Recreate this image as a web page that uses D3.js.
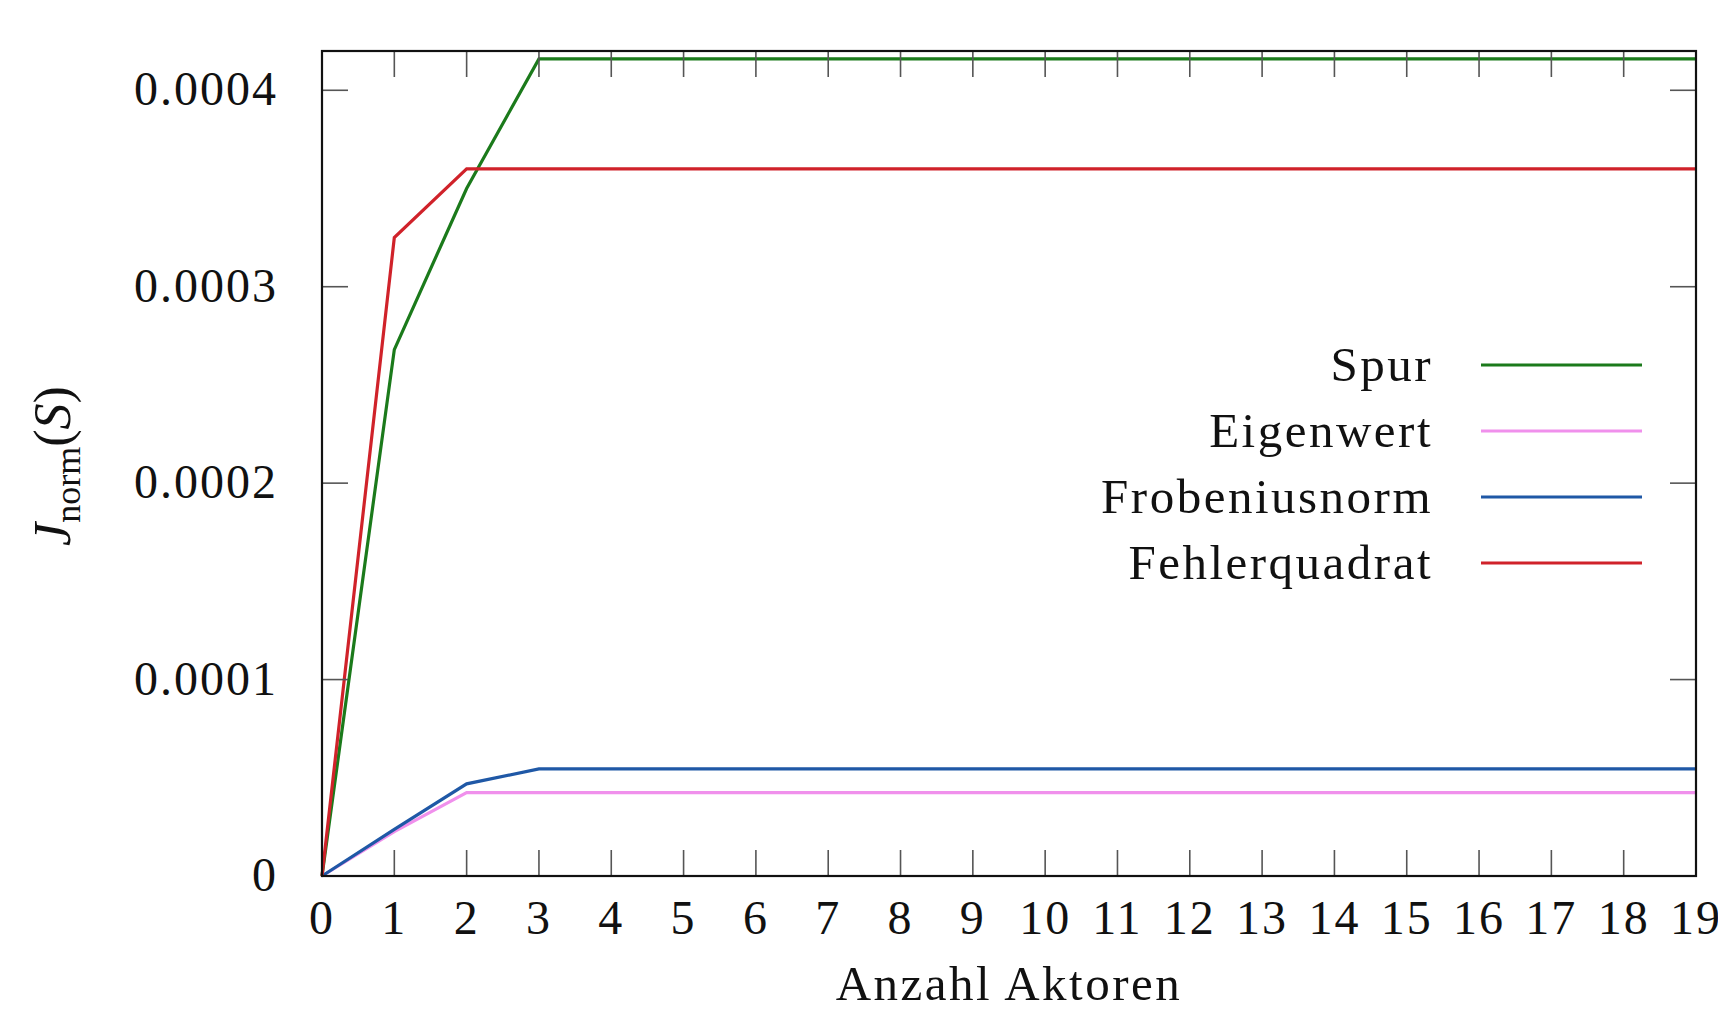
<!DOCTYPE html>
<html>
<head>
<meta charset="utf-8">
<script src="https://cdn.jsdelivr.net/npm/d3@7"></script>
<style>
  body { margin: 0; background: #fff; }
  text { font-family: "Liberation Serif", "DejaVu Serif", serif; fill: #111; }
</style>
</head>
<body>
<div id="viz"></div>
<script>
// data
const actors = d3.range(0, 20);
const spur          = [0, 0.000268, 0.00035, 0.000416];
const eigenwert     = [0, 0.0000226, 0.0000424, 0.0000424];
const frobenius     = [0, 0.0000237, 0.0000469, 0.0000545];
const fehlerquadrat = [0, 0.000325, 0.00036, 0.00036];
const yTicks = [0, 0.0001, 0.0002, 0.0003, 0.0004];
const yTickLabels = ["0", "0.0001", "0.0002", "0.0003", "0.0004"];
const seriesNames = ["Spur", "Eigenwert", "Frobeniusnorm", "Fehlerquadrat"];
const seriesColors = ["#1b7a1b", "#f090ec", "#1f58a6", "#d0222a"];

// values stay constant after the last listed point
function extend(vals) {
  return actors.map(i => i < vals.length ? vals[i] : vals[vals.length - 1]);
}
const series = [spur, eigenwert, frobenius, fehlerquadrat].map(extend);

const width = 1718, height = 1010;
const margin = { left: 322, right: 22, top: 51, bottom: 134 };

const svg = d3.select("#viz").append("svg")
    .attr("width", width)
    .attr("height", height);

const x = d3.scaleLinear().domain([0, 19]).range([margin.left, width - margin.right]);
const y = d3.scaleLinear().domain([0, 0.00042]).range([height - margin.bottom, margin.top]);

const tickLen = 26;
const tickColor = "#555";

// lines
const line = d3.line().x((d, i) => x(actors[i])).y(d => y(d));
const plot = svg.append("g");
plot.selectAll("path")
    .data(series)
    .enter()
    .append("path")
    .attr("d", d => line(d))
    .attr("fill", "none")
    .attr("stroke", (d, i) => seriesColors[i])
    .attr("stroke-width", 3.2);

// ticks inside the frame, bottom + top
const xt = svg.append("g");
actors.forEach(v => {
  xt.append("line").attr("x1", x(v)).attr("x2", x(v))
    .attr("y1", y.range()[0]).attr("y2", y.range()[0] - tickLen)
    .attr("stroke", tickColor).attr("stroke-width", 1.6);
  xt.append("line").attr("x1", x(v)).attr("x2", x(v))
    .attr("y1", y.range()[1]).attr("y2", y.range()[1] + tickLen)
    .attr("stroke", tickColor).attr("stroke-width", 1.6);
  xt.append("text").attr("x", x(v)).attr("y", 934)
    .attr("text-anchor", "middle").attr("font-size", 48)
    .attr("letter-spacing", 2)
    .text(v);
});

const yt = svg.append("g");
yTicks.forEach((v, i) => {
  yt.append("line").attr("x1", x.range()[0]).attr("x2", x.range()[0] + tickLen)
    .attr("y1", y(v)).attr("y2", y(v))
    .attr("stroke", tickColor).attr("stroke-width", 1.6);
  yt.append("line").attr("x1", x.range()[1]).attr("x2", x.range()[1] - tickLen)
    .attr("y1", y(v)).attr("y2", y(v))
    .attr("stroke", tickColor).attr("stroke-width", 1.6);
  yt.append("text").attr("x", 278).attr("y", y(v) + 15)
    .attr("text-anchor", "end").attr("font-size", 48)
    .attr("letter-spacing", 2)
    .text(yTickLabels[i]);
});

// frame
svg.append("rect")
    .attr("x", x.range()[0]).attr("y", y.range()[1])
    .attr("width", x.range()[1] - x.range()[0])
    .attr("height", y.range()[0] - y.range()[1])
    .attr("fill", "none").attr("stroke", "#111").attr("stroke-width", 2.2);

// axis titles
svg.append("text")
    .attr("x", (x.range()[0] + x.range()[1]) / 2).attr("y", 1000)
    .attr("text-anchor", "middle").attr("font-size", 49)
    .attr("letter-spacing", 2.5)
    .text("Anzahl Aktoren");

const yl = svg.append("text")
    .attr("transform", "translate(70," + 466 + ") rotate(-90)")
    .attr("text-anchor", "middle").attr("font-size", 52);
yl.append("tspan").attr("font-style", "italic").text("J");
yl.append("tspan").attr("font-size", 36).attr("dy", 10).text("norm");
yl.append("tspan").attr("dy", -10).text("(");
yl.append("tspan").attr("font-style", "italic").text("S");
yl.append("tspan").text(")");

// legend
const legend = svg.append("g");
seriesNames.forEach((name, i) => {
  const ly = 365 + i * 66;
  legend.append("text").attr("x", 1433).attr("y", ly + 16)
    .attr("text-anchor", "end").attr("font-size", 49)
    .attr("letter-spacing", 2.5).text(name);
  legend.append("line").attr("x1", 1481).attr("x2", 1642)
    .attr("y1", ly).attr("y2", ly)
    .attr("stroke", seriesColors[i]).attr("stroke-width", 3.2);
});
</script>
</body>
</html>
